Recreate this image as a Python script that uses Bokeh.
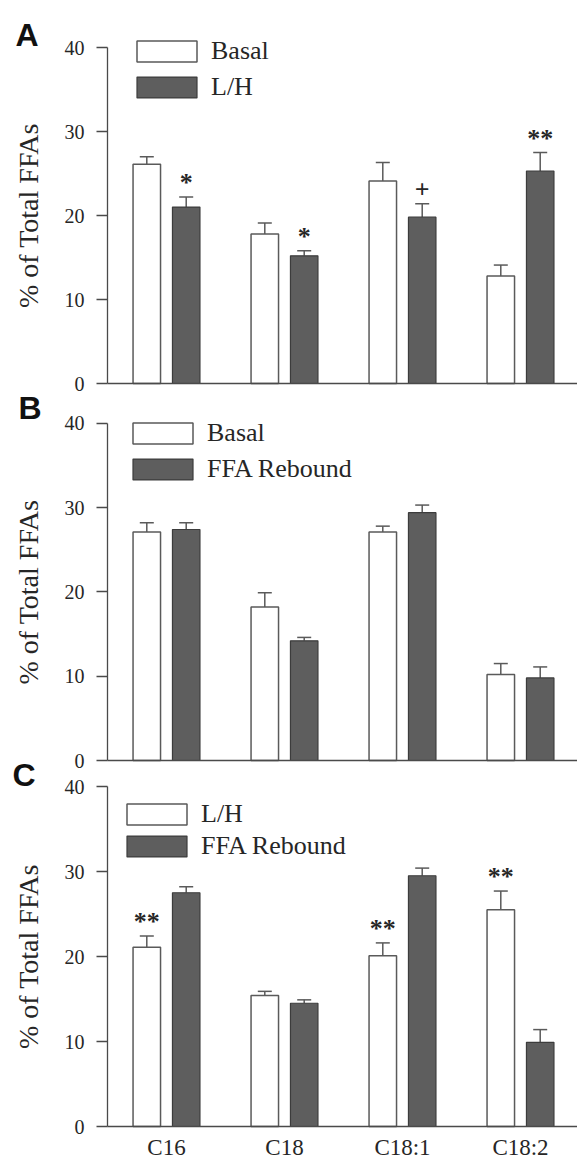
from bokeh.plotting import figure
from bokeh.models import (ColumnDataSource, Range1d, LinearAxis, FixedTicker, Whisker,
                          TeeHead, Legend, LegendItem)
from bokeh.core.properties import value
from bokeh.embed import file_html
from bokeh.resources import INLINE

# ---------------- data ----------------
categories = ["C16", "C18", "C18:1", "C18:2"]
y_ticks = [0, 10, 20, 30, 40]

# Panel A
a_basal = [26.1, 17.8, 24.1, 12.8]
a_basal_sem = [0.9, 1.3, 2.2, 1.3]
a_lh = [21.0, 15.2, 19.8, 25.3]
a_lh_sem = [1.2, 0.6, 1.6, 2.2]
a_marks_first = ["", "", "", ""]
a_marks_second = ["*", "*", "+", "**"]

# Panel B
b_basal = [27.1, 18.2, 27.1, 10.2]
b_basal_sem = [1.1, 1.7, 0.7, 1.3]
b_rebound = [27.4, 14.2, 29.4, 9.8]
b_rebound_sem = [0.8, 0.4, 0.9, 1.3]
b_marks_first = ["", "", "", ""]
b_marks_second = ["", "", "", ""]

# Panel C
c_lh = [21.1, 15.4, 20.1, 25.5]
c_lh_sem = [1.3, 0.5, 1.5, 2.2]
c_rebound = [27.5, 14.5, 29.5, 9.9]
c_rebound_sem = [0.7, 0.4, 0.9, 1.5]
c_marks_first = ["**", "", "**", "**"]
c_marks_second = ["", "", "", ""]

# ---------------- layout / style ----------------
W, H = 577, 1162
AXIS_PX = 107          # pixel column of the y axes
UNIT_PX = 118          # pixels per category slot
SERIF = "Liberation Serif"
SANS = "Liberation Sans"
TXT = "#262626"
AX = "#4a4a4a"
WHITE_LINE = "#5a5a5a"
DARK_FILL = "#5e5e5e"
DARK_LINE = "#3c3c3c"
OFF = 0.167
BW = 0.233
MARK_GAP = 1.7

x_end = (W - AXIS_PX) / UNIT_PX
p = figure(width=W, height=H,
           x_range=Range1d(-AXIS_PX / UNIT_PX, x_end),
           min_border=0, x_axis_location=None, y_axis_location=None,
           output_backend="svg", toolbar_location=None,
           background_fill_color="white", border_fill_color="white")
p.outline_line_color = None
p.grid.visible = False

panels = [
    dict(name="default", letter="A", s1="Basal", s2="L/H",
         v1=a_basal, e1=a_basal_sem, v2=a_lh, e2=a_lh_sem,
         m1=a_marks_first, m2=a_marks_second,
         zero_px=383, k=8.4, letter_px=(15, 34), legend_px=(129, 102), legend_spacing=6,
         xlabels=False),
    dict(name="B", letter="B", s1="Basal", s2="FFA Rebound",
         v1=b_basal, e1=b_basal_sem, v2=b_rebound, e2=b_rebound_sem,
         m1=b_marks_first, m2=b_marks_second,
         zero_px=760, k=8.43, letter_px=(18, 407), legend_px=(125, 484), legend_spacing=6,
         xlabels=False),
    dict(name="C", letter="C", s1="L/H", s2="FFA Rebound",
         v1=c_lh, e1=c_lh_sem, v2=c_rebound, e2=c_rebound_sem,
         m1=c_marks_first, m2=c_marks_second,
         zero_px=1126, k=8.5, letter_px=(12, 774), legend_px=(119, 861), legend_spacing=2,
         xlabels=True),
]

xc = [i + 0.5 for i in range(len(categories))]

for pn in panels:
    k, z = pn["k"], pn["zero_px"]
    rng = Range1d(-(H - z) / k, z / k)
    if pn["name"] == "default":
        p.y_range = rng
    else:
        p.extra_y_ranges[pn["name"]] = rng
    yr = pn["name"]

    x1 = [x - OFF for x in xc]
    x2 = [x + OFF for x in xc]
    u1 = [v + s for v, s in zip(pn["v1"], pn["e1"])]
    u2 = [v + s for v, s in zip(pn["v2"], pn["e2"])]
    src = ColumnDataSource(dict(cat=categories, x1=x1, x2=x2, v1=pn["v1"], v2=pn["v2"],
                                u1=u1, u2=u2))

    r1 = p.vbar(x="x1", top="v1", width=BW, source=src, y_range_name=yr,
                fill_color="white", line_color=WHITE_LINE, line_width=1.5)
    r2 = p.vbar(x="x2", top="v2", width=BW, source=src, y_range_name=yr,
                fill_color=DARK_FILL, line_color=DARK_LINE, line_width=1.2)

    for xs, lo, hi in (("x1", "v1", "u1"), ("x2", "v2", "u2")):
        p.add_layout(Whisker(base=xs, lower=lo, upper=hi, source=src, y_range_name=yr,
                             line_color=WHITE_LINE, line_width=1.5, lower_head=None,
                             upper_head=TeeHead(size=14, line_color=WHITE_LINE, line_width=1.5)))

    # significance marks
    mx, my, mt = [], [], []
    for xs, us, ms in ((x1, u1, pn["m1"]), (x2, u2, pn["m2"])):
        for x, u, m in zip(xs, us, ms):
            if m:
                mx.append(x)
                my.append(u + MARK_GAP)
                mt.append(m)
    if mt:
        p.text(x=mx, y=my, text=mt, y_range_name=yr,
               text_font=value(SERIF), text_font_size="26px", text_font_style="bold",
               text_color=TXT, text_align="center", text_baseline="alphabetic")

    # panel letter
    lx, ly = pn["letter_px"]
    p.text(x=[(lx - AXIS_PX) / UNIT_PX], y=[(z - ly) / k], text=[pn["letter"]], y_range_name=yr,
           text_font=value(SANS), text_font_style="bold", text_font_size="32px",
           text_color="#111111", text_align="left", text_baseline="alphabetic")

    # y axis
    ya = LinearAxis(y_range_name=yr, fixed_location=0, bounds=(0, 40),
                    ticker=FixedTicker(ticks=y_ticks))
    ya.axis_line_color = AX
    ya.axis_line_width = 1.3
    ya.major_tick_line_color = AX
    ya.major_tick_line_width = 1.3
    ya.major_tick_out = 11
    ya.major_tick_in = 0
    ya.minor_tick_out = 0
    ya.minor_tick_in = 0
    ya.major_label_standoff = 12
    ya.major_label_text_font = SERIF
    ya.major_label_text_font_size = "20px"
    ya.major_label_text_color = TXT
    ya.axis_label = "% of Total FFAs"
    ya.axis_label_text_font = SERIF
    ya.axis_label_text_font_size = "28px"
    ya.axis_label_text_font_style = "normal"
    ya.axis_label_text_color = TXT
    ya.axis_label_standoff = 18
    p.add_layout(ya, "left")

    # x axis
    if pn["xlabels"]:
        xt = FixedTicker(ticks=xc)
    else:
        xt = FixedTicker(ticks=[])
    xa = LinearAxis(y_range_name=yr, fixed_location=0, bounds=(0, x_end), ticker=xt)
    xa.axis_line_color = AX
    xa.axis_line_width = 1.3
    xa.major_tick_out = 0
    xa.major_tick_in = 0
    xa.minor_tick_out = 0
    xa.minor_tick_in = 0
    xa.major_label_overrides = {x: c for x, c in zip(xc, categories)}
    xa.major_label_text_font = SERIF
    xa.major_label_text_font_size = "23px"
    xa.major_label_text_color = TXT
    xa.major_label_standoff = 8
    p.add_layout(xa, "below")

    # legend
    lpx, lpy = pn["legend_px"]
    lg = Legend(items=[LegendItem(label=pn["s1"], renderers=[r1]),
                       LegendItem(label=pn["s2"], renderers=[r2])],
                location=(lpx, H - lpy))
    lg.glyph_width = 75
    lg.glyph_height = 26
    lg.label_standoff = 7
    lg.spacing = pn["legend_spacing"]
    lg.padding = 0
    lg.margin = 0
    lg.border_line_color = None
    lg.background_fill_alpha = 0
    lg.label_text_font = SERIF
    lg.label_text_font_size = "26px"
    lg.label_text_color = TXT
    p.add_layout(lg)

open("out.html", "w").write(file_html(p, INLINE))
